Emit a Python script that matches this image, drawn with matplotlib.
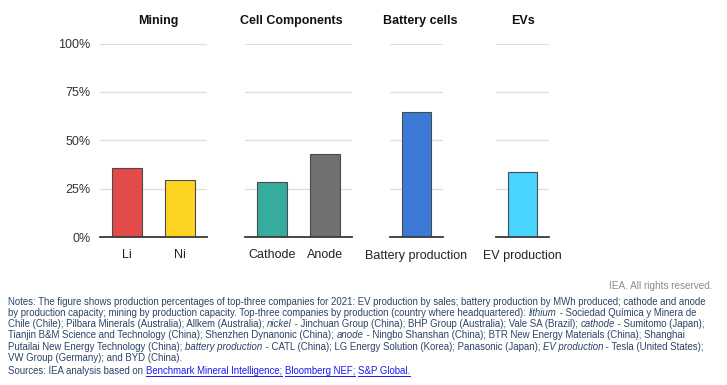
import matplotlib
matplotlib.use('Agg')
import matplotlib.pyplot as plt
from matplotlib.lines import Line2D

plt.rcParams['font.family'] = ['Liberation Sans', 'DejaVu Sans']

W, H = 727, 385

# ---------------- data ----------------
groups = ['Mining', 'Cell Components', 'Battery cells', 'EVs']
categories = [['Li', 'Ni'], ['Cathode', 'Anode'], ['Battery production'], ['EV production']]
values = [[35.7, 29.3], [28.3, 42.9], [64.4], [33.7]]
bar_colors = [['#E34B4B', '#FDD422'], ['#36AC9F', '#6F706F'], ['#3D79D6'], ['#48D5FD']]
y_ticks = [0, 25, 50, 75, 100]
y_tick_labels = ['0%', '25%', '50%', '75%', '100%']

# ---------------- layout (pixels) ----------------
panel_left = [100, 245, 390, 496]
panel_width = [107, 107, 53, 53]
title_cx = [158.5, 291, 420.5, 523]
y_bottom_px, y_top_px = 237, 43.5

fig = plt.figure(figsize=(W / 100, H / 100), dpi=100)

for i, g in enumerate(groups):
    ax = fig.add_axes([panel_left[i] / W, 1 - y_bottom_px / H,
                       panel_width[i] / W, (y_bottom_px - y_top_px) / H])
    n = len(categories[i])
    xs = list(range(n))
    ax.bar(xs, values[i], width=0.565, color=bar_colors[i], edgecolor='#4a4a4a',
           linewidth=0.8, zorder=3)
    ax.set_xlim(-0.5, n - 0.5)
    ax.set_ylim(0, 100)
    ax.set_yticks(y_ticks)
    ax.grid(axis='y', color='#dedede', linewidth=0.9, zorder=0)
    ax.set_axisbelow(True)
    for s in ax.spines.values():
        s.set_visible(False)
    ax.axhline(0, color='#3a3a3a', linewidth=1.3, zorder=4, clip_on=False)
    ax.set_xticks(xs)
    ax.set_xticklabels(categories[i], fontsize=9, color='#222222')
    ax.tick_params(axis='x', length=0, pad=9)
    if i == 0:
        ax.set_yticklabels(y_tick_labels, fontsize=9, color='#333333')
        ax.tick_params(axis='y', length=0, pad=7)
    else:
        ax.set_yticklabels([])
        ax.tick_params(axis='y', length=0)
    fig.text(title_cx[i] / W, 1 - 21 / H, g, ha='center', va='center',
             fontsize=9, fontweight='bold', color='#111111')

# ---------------- footer ----------------
fig.text(712.5 / W, 1 - 286 / H, 'IEA. All rights reserved.', ha='right', va='center',
         fontsize=7.2, color='#8c8c8c')

note_color = '#2b4468'
link_color = '#1a1aee'
renderer = fig.canvas.get_renderer()
FS = {'v': 7.3}


def text_width(s, style):
    t1 = fig.text(0, 0, s + '|', fontsize=FS['v'], style=style)
    t2 = fig.text(0, 0, '|', fontsize=FS['v'], style=style)
    w = t1.get_window_extent(renderer).width - t2.get_window_extent(renderer).width
    t1.remove()
    t2.remove()
    return w


def draw_line(x0, yc, runs):
    x = x0
    for s, style, color, underline in runs:
        fig.text(x / W, 1 - yc / H, s, fontsize=FS['v'], style=style, color=color,
                 ha='left', va='center')
        w = text_width(s, style)
        if underline:
            uy = 1 - (yc + 5) / H
            fig.add_artist(Line2D([x / W, (x + w) / W], [uy, uy], color=color,
                                  linewidth=0.7, transform=fig.transFigure))
        x += w


N = ('normal', note_color, False)
I = ('italic', note_color, False)
L = ('normal', link_color, True)

lines = [
    [('Notes: The figure shows production percentages of top-three companies for 2021: EV production by sales; battery production by MWh produced; cathode and anode',) + N],
    [('by production capacity; mining by production capacity. Top-three companies by production (country where headquartered): ',) + N,
     ('lithium',) + I, (' - Sociedad Química y Minera de',) + N],
    [('Chile (Chile); Pilbara Minerals (Australia); Allkem (Australia); ',) + N, ('nickel',) + I,
     (' - Jinchuan Group (China); BHP Group (Australia); Vale SA (Brazil); ',) + N, ('cathode',) + I,
     (' - Sumitomo (Japan);',) + N],
    [('Tianjin B&M Science and Technology (China); Shenzhen Dynanonic (China); ',) + N, ('anode',) + I,
     (' - Ningbo Shanshan (China); BTR New Energy Materials (China); Shanghai',) + N],
    [('Putailai New Energy Technology (China); ',) + N, ('battery production',) + I,
     (' - CATL (China); LG Energy Solution (Korea); Panasonic (Japan); ',) + N, ('EV production',) + I,
     (' - Tesla (United States);',) + N],
    [('VW Group (Germany); and BYD (China).',) + N],
]

# fit font size so the first note line spans the same width as in the reference
target_w = 704.0
w0 = text_width(lines[0][0][0], 'normal')
FS['v'] = FS['v'] * target_w / w0

ys = [301.7, 312.9, 324.1, 335.3, 346.5, 357.7]
for yc, runs in zip(ys, lines):
    draw_line(8.3, yc, runs)

draw_line(8.3, 370.5, [('Sources: IEA analysis based on ',) + N,
                       ('Benchmark Mineral Intelligence;',) + L, (' ',) + N,
                       ('Bloomberg NEF;',) + L, (' ',) + N, ('S&P Global.',) + L])

fig.savefig('out.png', dpi=100)
